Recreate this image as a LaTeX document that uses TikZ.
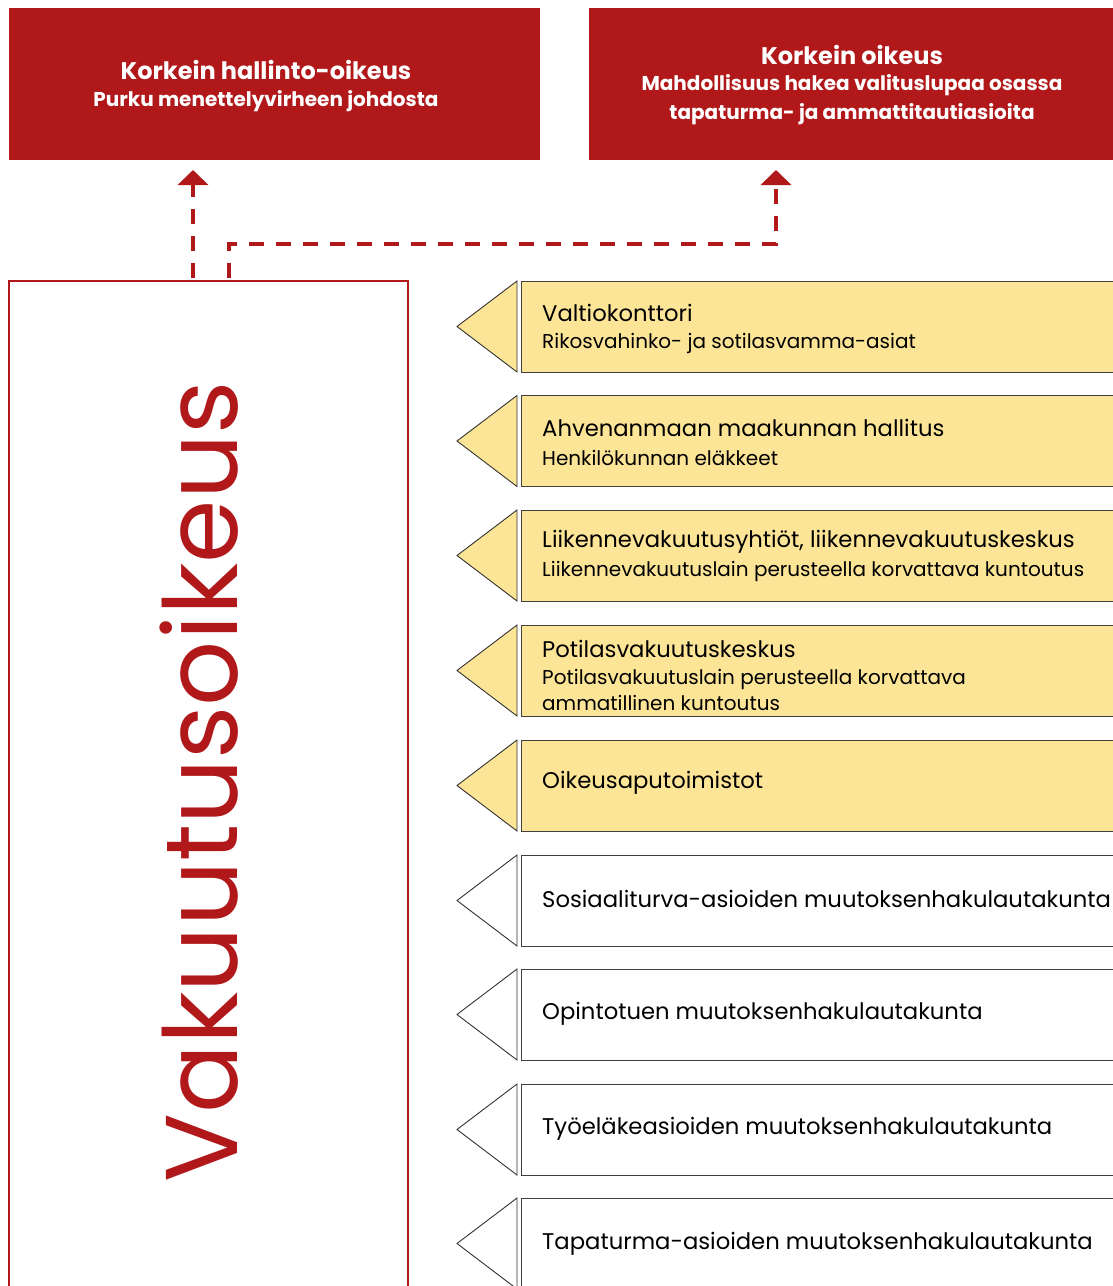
\documentclass[tikz,border=0pt]{standalone}
\usepackage{fontspec}
\setmainfont{Poppins}
\usetikzlibrary{arrows.meta}
\definecolor{dred}{HTML}{B0181A}
\definecolor{pyel}{HTML}{FDE598}
\tikzset{
  topbox/.style={fill=dred,draw=none},
  toptitle/.style={text=white,inner sep=0pt,font=\fontsize{24}{28}\selectfont\bfseries},
  topsub/.style={text=white,inner sep=0pt,font=\fontsize{20}{24}\selectfont\bfseries},
  conn/.style={draw=dred,line width=4.5pt,dash pattern=on 15pt off 12pt,-{Triangle[length=15pt,width=30pt]}},
  rowbox/.style={draw=black!75,line width=0.9pt},
  rowtri/.style={draw=black!80,line width=0.9pt},
  ttl/.style={anchor=west,inner sep=0pt,font=\fontsize{22.7}{26}\selectfont},
  sub/.style={anchor=west,inner sep=0pt,font=\fontsize{20}{24}\selectfont},
}
\begin{document}
\begin{tikzpicture}[x=1pt,y=-1pt]
\useasboundingbox (0,0) rectangle (1113,1286);
% top boxes
\fill[topbox] (9,8) rectangle (540,160);
\fill[topbox] (589,8) rectangle (1113,160);
\node[toptitle] (kho) at (266,70) {Korkein hallinto-oikeus};
\node[topsub] (kho2) at (266,101) {Purku menettelyvirheen johdosta};
\node[toptitle] (ko) at (852,55) {Korkein oikeus};
\node[topsub] (ko2) at (852,85) {Mahdollisuus hakea valituslupaa osassa};
\node[topsub] (ko3) at (852,114) {tapaturma- ja ammattitautiasioita};
\coordinate (khot) at (193,170);
\coordinate (kot) at (776,170);
% big box
\draw[dred,line width=2pt] (9,1290) -- (9,281) -- (408,281) -- (408,1290);
\node[rotate=90,text=dred,inner sep=0pt,font=\fontsize{102}{120}\selectfont] (vo) at (199,782) {Vakuutusoikeus};
\coordinate (s1) at (193,278);
\coordinate (s2) at (229,278);
\draw[conn] (s1) -- (khot);
\draw[conn] (s2) -- (229,244) -- (776,244) -- (kot);
% rows
\foreach \i/\t/\f in {0/281/pyel,1/395.5/pyel,2/510/pyel,3/625/pyel,4/740/pyel,5/855/white,6/969/white,7/1084/white,8/1198/white}{
  \draw[rowtri,fill=\f] (517,\t) -- (457,\t+45.5) -- (517,\t+91) -- cycle;
  \draw[rowbox,fill=\f] (1120,\t) -- (521,\t) -- (521,\t+91) -- (1120,\t+91);
  \coordinate (r\i) at (542,\t);
}
\node[ttl] (t0) at ([yshift=-32pt]r0) {Valtiokonttori};
\node[sub] (u0) at ([yshift=-62pt]r0) {Rikosvahinko- ja sotilasvamma-asiat};
\node[ttl] (t1) at ([yshift=-32pt]r1) {Ahvenanmaan maakunnan hallitus};
\node[sub] (u1) at ([yshift=-62pt]r1) {Henkilökunnan eläkkeet};
\node[ttl] (t2) at ([yshift=-32pt]r2) {Liikennevakuutusyhtiöt, liikennevakuutuskeskus};
\node[sub] (u2) at ([yshift=-61pt]r2) {Liikennevakuutuslain perusteella korvattava kuntoutus};
\node[ttl] (t3) at ([yshift=-24pt]r3) {Potilasvakuutuskeskus};
\node[sub] (u3) at ([yshift=-54pt]r3) {Potilasvakuutuslain perusteella korvattava};
\node[sub] (v3) at ([yshift=-78pt]r3) {ammatillinen kuntoutus};
\node[ttl] (t4) at ([yshift=-43pt]r4) {Oikeusaputoimistot};
\node[ttl] (t5) at ([yshift=-44pt]r5) {Sosiaaliturva-asioiden muutoksenhakulautakunta};
\node[ttl] (t6) at ([yshift=-45pt]r6) {Opintotuen muutoksenhakulautakunta};
\node[ttl] (t7) at ([yshift=-45pt]r7) {Työeläkeasioiden muutoksenhakulautakunta};
\node[ttl] (t8) at ([yshift=-46pt]r8) {Tapaturma-asioiden muutoksenhakulautakunta};
\end{tikzpicture}
\end{document}
